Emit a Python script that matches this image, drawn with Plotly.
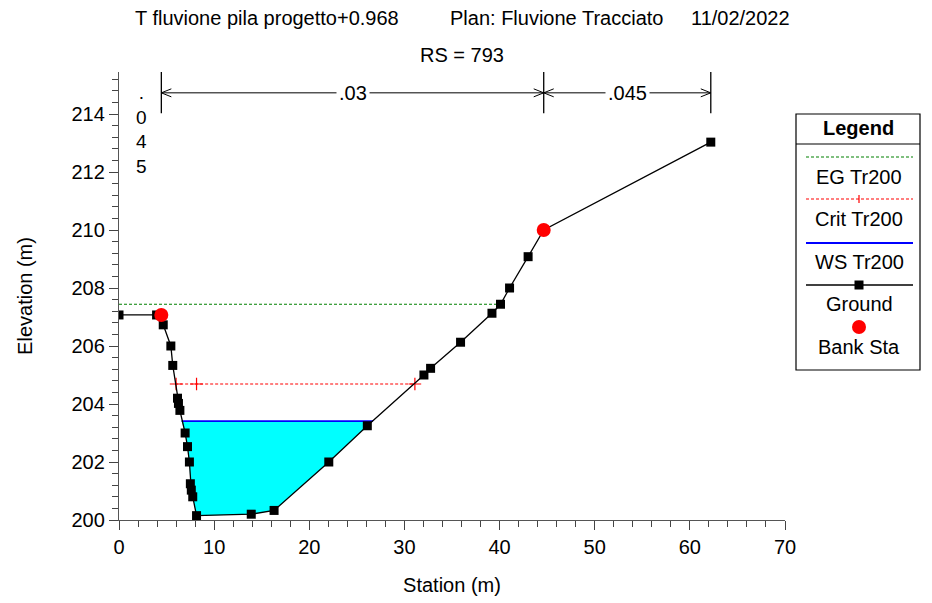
import plotly.graph_objects as go

# ---- cross-section data -------------------------------------------------
station = [0.0, 3.95, 4.45, 4.65, 5.45, 5.65, 6.15, 6.25, 6.4, 6.95, 7.2, 7.4,
           7.5, 7.6, 7.75, 8.15, 13.9, 16.3, 22.05, 26.1, 32.05, 32.75, 35.9,
           39.2, 40.1, 41.05, 43.0, 44.64, 62.2]
ground = [207.07, 207.07, 207.07, 206.73, 206.0, 205.33, 204.2, 204.02, 203.78,
          203.0, 202.53, 202.0, 201.25, 201.03, 200.8, 200.15, 200.2, 200.33,
          202.0, 203.25, 205.0, 205.23, 206.13, 207.13, 207.44, 208.0, 209.08,
          210.0, 213.03]

bank_sta = [4.45, 44.64]
bank_elev = [207.07, 210.0]

eg_elev = 207.44
eg_sta = [0.0, 40.1]

crit_elev = 204.69
crit_sta = [5.9, 31.1]
crit_marks = [6.0, 8.15, 31.1]

ws_elev = 203.41
ws_sta = [6.58, 26.7]

# Manning's n regions
n_bounds = [0.0, 4.45, 44.64, 62.2]
n_values = [".045", ".03", ".045"]

title_main = "T fluvione pila progetto+0.968"
title_plan = "Plan: Fluvione Tracciato"
title_date = "11/02/2022"
title_rs = "RS = 793"

FONT = "Liberation Sans, Arial, sans-serif"
FS = 20

# plot area geometry (pixels)
W, H = 932, 603
ML, MR, MT, MB = 119, 147, 72, 83
PW = W - ML - MR
PH = H - MT - MB
XR = [0, 70]
YR = [200, 200 + PH / 29.0]


def px_x(p):
    return (p - ML) / PW


def px_y(p):
    return (H - MB - p) / PH


def label(xp, yp, text, xanchor="center", size=FS):
    return dict(x=px_x(xp), y=px_y(yp), xref="paper", yref="paper",
                xanchor=xanchor, yanchor="middle", text=text, showarrow=False,
                font=dict(size=size, color="black"))


fig = go.Figure()

# water area below the water surface
fill_x = [ws_sta[0]] + [s for s in station if ws_sta[0] < s < ws_sta[1]] + [ws_sta[1]]
fill_y = [ws_elev] + [g for s, g in zip(station, ground) if ws_sta[0] < s < ws_sta[1]] + [ws_elev]
fig.add_trace(go.Scatter(x=fill_x, y=fill_y, fill="toself", fillcolor="#00FFFF",
                         mode="none", hoverinfo="skip", showlegend=False))

# energy grade line
fig.add_trace(go.Scatter(x=eg_sta, y=[eg_elev] * 2, mode="lines",
                         line=dict(color="#008000", width=1.2, dash="3px,2px"),
                         showlegend=False))
# critical depth
fig.add_trace(go.Scatter(x=crit_sta, y=[crit_elev] * 2, mode="lines",
                         line=dict(color="#FF0000", width=1.2, dash="3px,2px"),
                         showlegend=False))
fig.add_trace(go.Scatter(x=crit_marks, y=[crit_elev] * len(crit_marks), mode="markers",
                         marker=dict(symbol="cross-thin-open", size=9, color="#FF0000",
                                     line=dict(color="#FF0000", width=1.2)),
                         showlegend=False))
# water surface
fig.add_trace(go.Scatter(x=ws_sta, y=[ws_elev] * 2, mode="lines",
                         line=dict(color="#0000FF", width=1.8), showlegend=False))
# ground
fig.add_trace(go.Scatter(x=station, y=ground, mode="lines+markers",
                         line=dict(color="black", width=1.3),
                         marker=dict(symbol="square", size=9, color="black"),
                         showlegend=False))
# bank stations
fig.add_trace(go.Scatter(x=bank_sta, y=bank_elev, mode="markers",
                         marker=dict(symbol="circle", size=14, color="#FF0000"),
                         showlegend=False))

shapes = []
annotations = []

# Manning's n labels across the top
y_top = YR[1]
y_tick_bot = 214.03
y_arrow = 214.73
cw = 10 / (PW / (XR[1] - XR[0]))   # chevron length (data units)
ch = 4 / 29.0                       # chevron half-height (data units)
for b in n_bounds[1:]:
    shapes.append(dict(type="line", xref="x", yref="y", x0=b, x1=b,
                       y0=y_tick_bot, y1=y_top, line=dict(color="black", width=1.3)))
for i in range(1, len(n_values)):
    a, b = n_bounds[i], n_bounds[i + 1]
    shapes.append(dict(type="line", xref="x", yref="y", x0=a, x1=b,
                       y0=y_arrow, y1=y_arrow, line=dict(color="black", width=1)))
    for tip, d in ((a, 1), (b, -1)):
        path = (f"M {tip + d * cw},{y_arrow + ch} L {tip},{y_arrow} "
                f"L {tip + d * cw},{y_arrow - ch}")
        shapes.append(dict(type="path", xref="x", yref="y", path=path,
                           line=dict(color="black", width=1)))
    annotations.append(dict(x=(a + b) / 2, y=y_arrow, xref="x", yref="y",
                            xanchor="center", yanchor="middle",
                            text=n_values[i], showarrow=False, bgcolor="white",
                            font=dict(size=FS, color="black"), borderpad=2))
# narrow left region: label written vertically
annotations.append(label(141, 129, "<br>".join(n_values[0]), size=FS - 1))

# titles
annotations += [
    label(133, 18, title_main, xanchor="left"),
    label(448, 18, title_plan, xanchor="left"),
    label(792, 18, title_date, xanchor="right"),
    label(462, 55, title_rs),
]

# legend box
lx0, lx1, ly0, ly1 = 796, 920, 114, 370
shapes.append(dict(type="rect", xref="paper", yref="paper",
                   x0=px_x(lx0), x1=px_x(lx1), y0=px_y(ly1), y1=px_y(ly0),
                   line=dict(color="black", width=1.2), fillcolor="white"))
shapes.append(dict(type="line", xref="paper", yref="paper",
                   x0=px_x(lx0), x1=px_x(lx1), y0=px_y(144), y1=px_y(144),
                   line=dict(color="black", width=1.2)))
annotations.append(label((lx0 + lx1) / 2, 128, "<b>Legend</b>"))

legend_items = ["EG Tr200", "Crit Tr200", "WS Tr200", "Ground", "Bank Sta"]
sample_y = [157, 199, 243, 285, 327]
label_y = [177, 219, 262, 304, 347]
sx0, sx1, smid = 806, 913, 859
sample_style = [
    dict(color="#008000", width=1.2, dash="3px,2px"),
    dict(color="#FF0000", width=1.2, dash="3px,2px"),
    dict(color="#0000FF", width=1.8),
    dict(color="black", width=1.3),
]
for k, st in enumerate(sample_style):
    shapes.append(dict(type="line", xref="paper", yref="paper",
                       x0=px_x(sx0), x1=px_x(sx1), y0=px_y(sample_y[k]), y1=px_y(sample_y[k]),
                       line=st))
# crit "+" tick
shapes.append(dict(type="line", xref="paper", yref="paper",
                   x0=px_x(smid), x1=px_x(smid), y0=px_y(sample_y[1] - 4),
                   y1=px_y(sample_y[1] + 4), line=dict(color="#FF0000", width=1.2)))
# ground square
shapes.append(dict(type="rect", xref="paper", yref="paper",
                   x0=px_x(smid - 4.5), x1=px_x(smid + 4.5), y0=px_y(sample_y[3] + 4.5),
                   y1=px_y(sample_y[3] - 4.5), fillcolor="black", line=dict(width=0)))
# bank circle
shapes.append(dict(type="circle", xref="paper", yref="paper",
                   x0=px_x(smid - 7), x1=px_x(smid + 7), y0=px_y(sample_y[4] + 7),
                   y1=px_y(sample_y[4] - 7), fillcolor="#FF0000", line=dict(width=0)))
for name, yy in zip(legend_items, label_y):
    annotations.append(label(smid, yy, name))

fig.update_layout(
    width=W, height=H,
    margin=dict(l=ML, r=MR, t=MT, b=MB),
    paper_bgcolor="white", plot_bgcolor="white",
    font=dict(family=FONT, size=FS, color="black"),
    showlegend=False,
    shapes=shapes,
    annotations=annotations,
    xaxis=dict(range=XR, tickvals=list(range(0, 71, 10)), showgrid=False, zeroline=False,
               showline=True, linecolor="#555555", linewidth=1.3,
               ticks="outside", ticklen=9, tickcolor="#444444", tickwidth=1.2,
               minor=dict(dtick=2, ticks="outside", ticklen=6, tickcolor="#444444",
                          tickwidth=1.2, showgrid=False),
               title=dict(text="Station (m)", standoff=20, font=dict(size=FS)),
               tickfont=dict(size=FS)),
    yaxis=dict(range=YR, tickvals=list(range(200, 215, 2)), showgrid=False, zeroline=False,
               showline=True, linecolor="#555555", linewidth=1.3,
               ticks="outside", ticklen=9, tickcolor="#444444", tickwidth=1.2,
               minor=dict(tick0=200, dtick=0.4, ticks="outside", ticklen=6,
                          tickcolor="#444444", tickwidth=1.2, showgrid=False),
               title=dict(text="Elevation (m)", standoff=33, font=dict(size=FS)),
               tickfont=dict(size=FS)),
)

fig.write_html("out.html")
